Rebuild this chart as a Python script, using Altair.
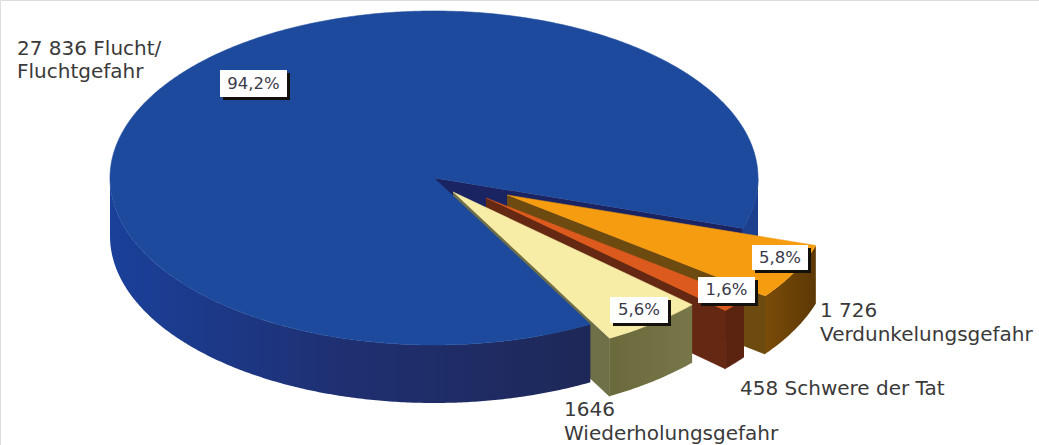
import math
import altair as alt
import pandas as pd

# Slice values, in drawing order clockwise from the first cut
slice_names = ["Verdunkelung", "Schwere", "Wiederholung", "Flucht"]
slice_counts = [1726, 458, 1646, 27836]

# Pie projection (ellipse radii, wall height, first cut angle)
CX, CY, RX, RY, DEPTH, START = 434, 178, 324, 167, 58, 17.6
explode = {
    "Verdunkelung": (73, 17),
    "Schwere": (52, 20),
    "Wiederholung": (19, 14),
    "Flucht": (0, 0),
}

angles = {}
cursor = START
total = sum(slice_counts)
for name, count in zip(slice_names, slice_counts):
    angles[name] = (cursor, cursor + 360 * count / total)
    cursor = angles[name][1]


def rim(name, t, drop=0):
    dx, dy = explode[name]
    r = math.radians(t)
    return (CX + dx + RX * math.cos(r), CY + dy + RY * math.sin(r) + drop)


def arc(name, a, b, drop=0):
    n = max(2, int(abs(b - a) * 2))
    return [rim(name, a + (b - a) * i / n, drop) for i in range(n + 1)]


def centre(name, drop=0):
    dx, dy = explode[name]
    return (CX + dx, CY + dy + drop)


def top(name):
    a, b = angles[name]
    return [centre(name)] + arc(name, a, b)


def outer(name, a, b):
    return arc(name, a, b) + arc(name, b, a, DEPTH)


def cut(name, t):
    return [centre(name), rim(name, t), rim(name, t, DEPTH), centre(name, DEPTH)]


def fade(*stops):
    return alt.Gradient(
        gradient="linear", x1=0, x2=1, y1=0, y2=0,
        stops=[alt.GradientStop(offset=o, color=c) for o, c in stops],
    )


o_a, o_b = angles["Verdunkelung"]
s_a, s_b = angles["Schwere"]
w_a, w_b = angles["Wiederholung"]
f_a, f_b = angles["Flucht"]

# Painter's order: hidden walls first, nearest surfaces last
shapes = [
    (cut("Flucht", f_b - 360), "#1b2462"),
    (outer("Flucht", 0, o_a), "#1c3f8e"),
    (outer("Verdunkelung", o_a, o_b), fade((0, "#7a4c08"), (1, "#5c3805"))),
    (cut("Verdunkelung", o_b), "#6d4a10"),
    (top("Verdunkelung"), "#f59c10"),
    (outer("Schwere", s_a, s_b), "#5a2410"),
    (cut("Schwere", s_b), "#652812"),
    (top("Schwere"), "#dc5a1e"),
    (cut("Wiederholung", w_b), "#6f6f48"),
    (outer("Wiederholung", w_a, w_b), fade((0, "#6a6a3c"), (1, "#767648"))),
    (outer("Flucht", f_a, 180), fade((0, "#1a409a"), (0.5, "#1f2f70"), (1, "#1e2858"))),
    (top("Flucht"), "#1d4a9c"),
    (top("Wiederholung"), "#f8eda6"),
]

x_scale = alt.Scale(domain=[0, 1039], range=[0, 1039])
y_scale = alt.Scale(domain=[0, 445], range=[0, 445])
x_enc = alt.X("px:Q", scale=x_scale, axis=None)
y_enc = alt.Y("py:Q", scale=y_scale, axis=None)

layers = []
for points, paint in shapes:
    frame = pd.DataFrame(
        {"px": [p[0] for p in points], "py": [p[1] for p in points], "seq": range(len(points))}
    )
    edge = paint if isinstance(paint, str) else "#00000000"
    layers.append(
        alt.Chart(frame)
        .mark_line(fill=paint, stroke=edge, strokeWidth=0.6)
        .encode(x=x_enc, y=y_enc, order=alt.Order("seq:Q"))
    )

# Percentage tags: white box with a hard dark shadow
tag_text = ["94,2%", "5,8%", "1,6%", "5,6%"]
tag_left = [220, 752, 698, 610]
tag_right = [287, 808, 755, 668]
tag_top = [70, 245, 277, 297]
tag_bottom = [97, 270, 303, 323]
tags = pd.DataFrame(
    {"label": tag_text, "l": tag_left, "r": tag_right, "t": tag_top, "b": tag_bottom}
)
tags["xm"] = (tags.l + tags.r) / 2
tags["ym"] = (tags.t + tags.b) / 2
tags["ls"] = tags.l + 3
tags["rs"] = tags.r + 3
tags["ts"] = tags.t + 3
tags["bs"] = tags.b + 3

shadow = alt.Chart(tags).mark_rect(color="#14110c").encode(
    x=alt.X("ls:Q", scale=x_scale, axis=None), x2="rs:Q",
    y=alt.Y("ts:Q", scale=y_scale, axis=None), y2="bs:Q",
)
box = alt.Chart(tags).mark_rect(color="#ffffff").encode(
    x=alt.X("l:Q", scale=x_scale, axis=None), x2="r:Q",
    y=alt.Y("t:Q", scale=y_scale, axis=None), y2="b:Q",
)
tag_labels = alt.Chart(tags).mark_text(
    font="DejaVu Sans", fontSize=16.5, color="#3a3a4a", baseline="middle", align="center"
).encode(
    x=alt.X("xm:Q", scale=x_scale, axis=None),
    y=alt.Y("ym:Q", scale=y_scale, axis=None),
    text="label:N",
)

# Category captions, one row per printed line
caption_text = [
    "27 836 Flucht/", "Fluchtgefahr", "1 726", "Verdunkelungsgefahr",
    "458 Schwere der Tat", "1646", "Wiederholungsgefahr",
]
caption_x = [17, 17, 820, 820, 740, 564, 564]
caption_y = [55, 78, 317, 341, 395, 416, 440]
captions = pd.DataFrame({"label": caption_text, "cx": caption_x, "cy": caption_y})
caption_marks = alt.Chart(captions).mark_text(
    font="DejaVu Sans", fontSize=20, color="#3a3a3a", baseline="alphabetic", align="left"
).encode(
    x=alt.X("cx:Q", scale=x_scale, axis=None),
    y=alt.Y("cy:Q", scale=y_scale, axis=None),
    text="label:N",
)

chart = (
    alt.layer(*layers, shadow, box, tag_labels, caption_marks)
    .properties(width=1039, height=445, padding=0, autosize=alt.AutoSizeParams(type="none"))
    .configure_view(stroke=None)
    .configure(background="#ffffff")
)
chart.save("out.html", embed_options={"renderer": "svg", "actions": False})
